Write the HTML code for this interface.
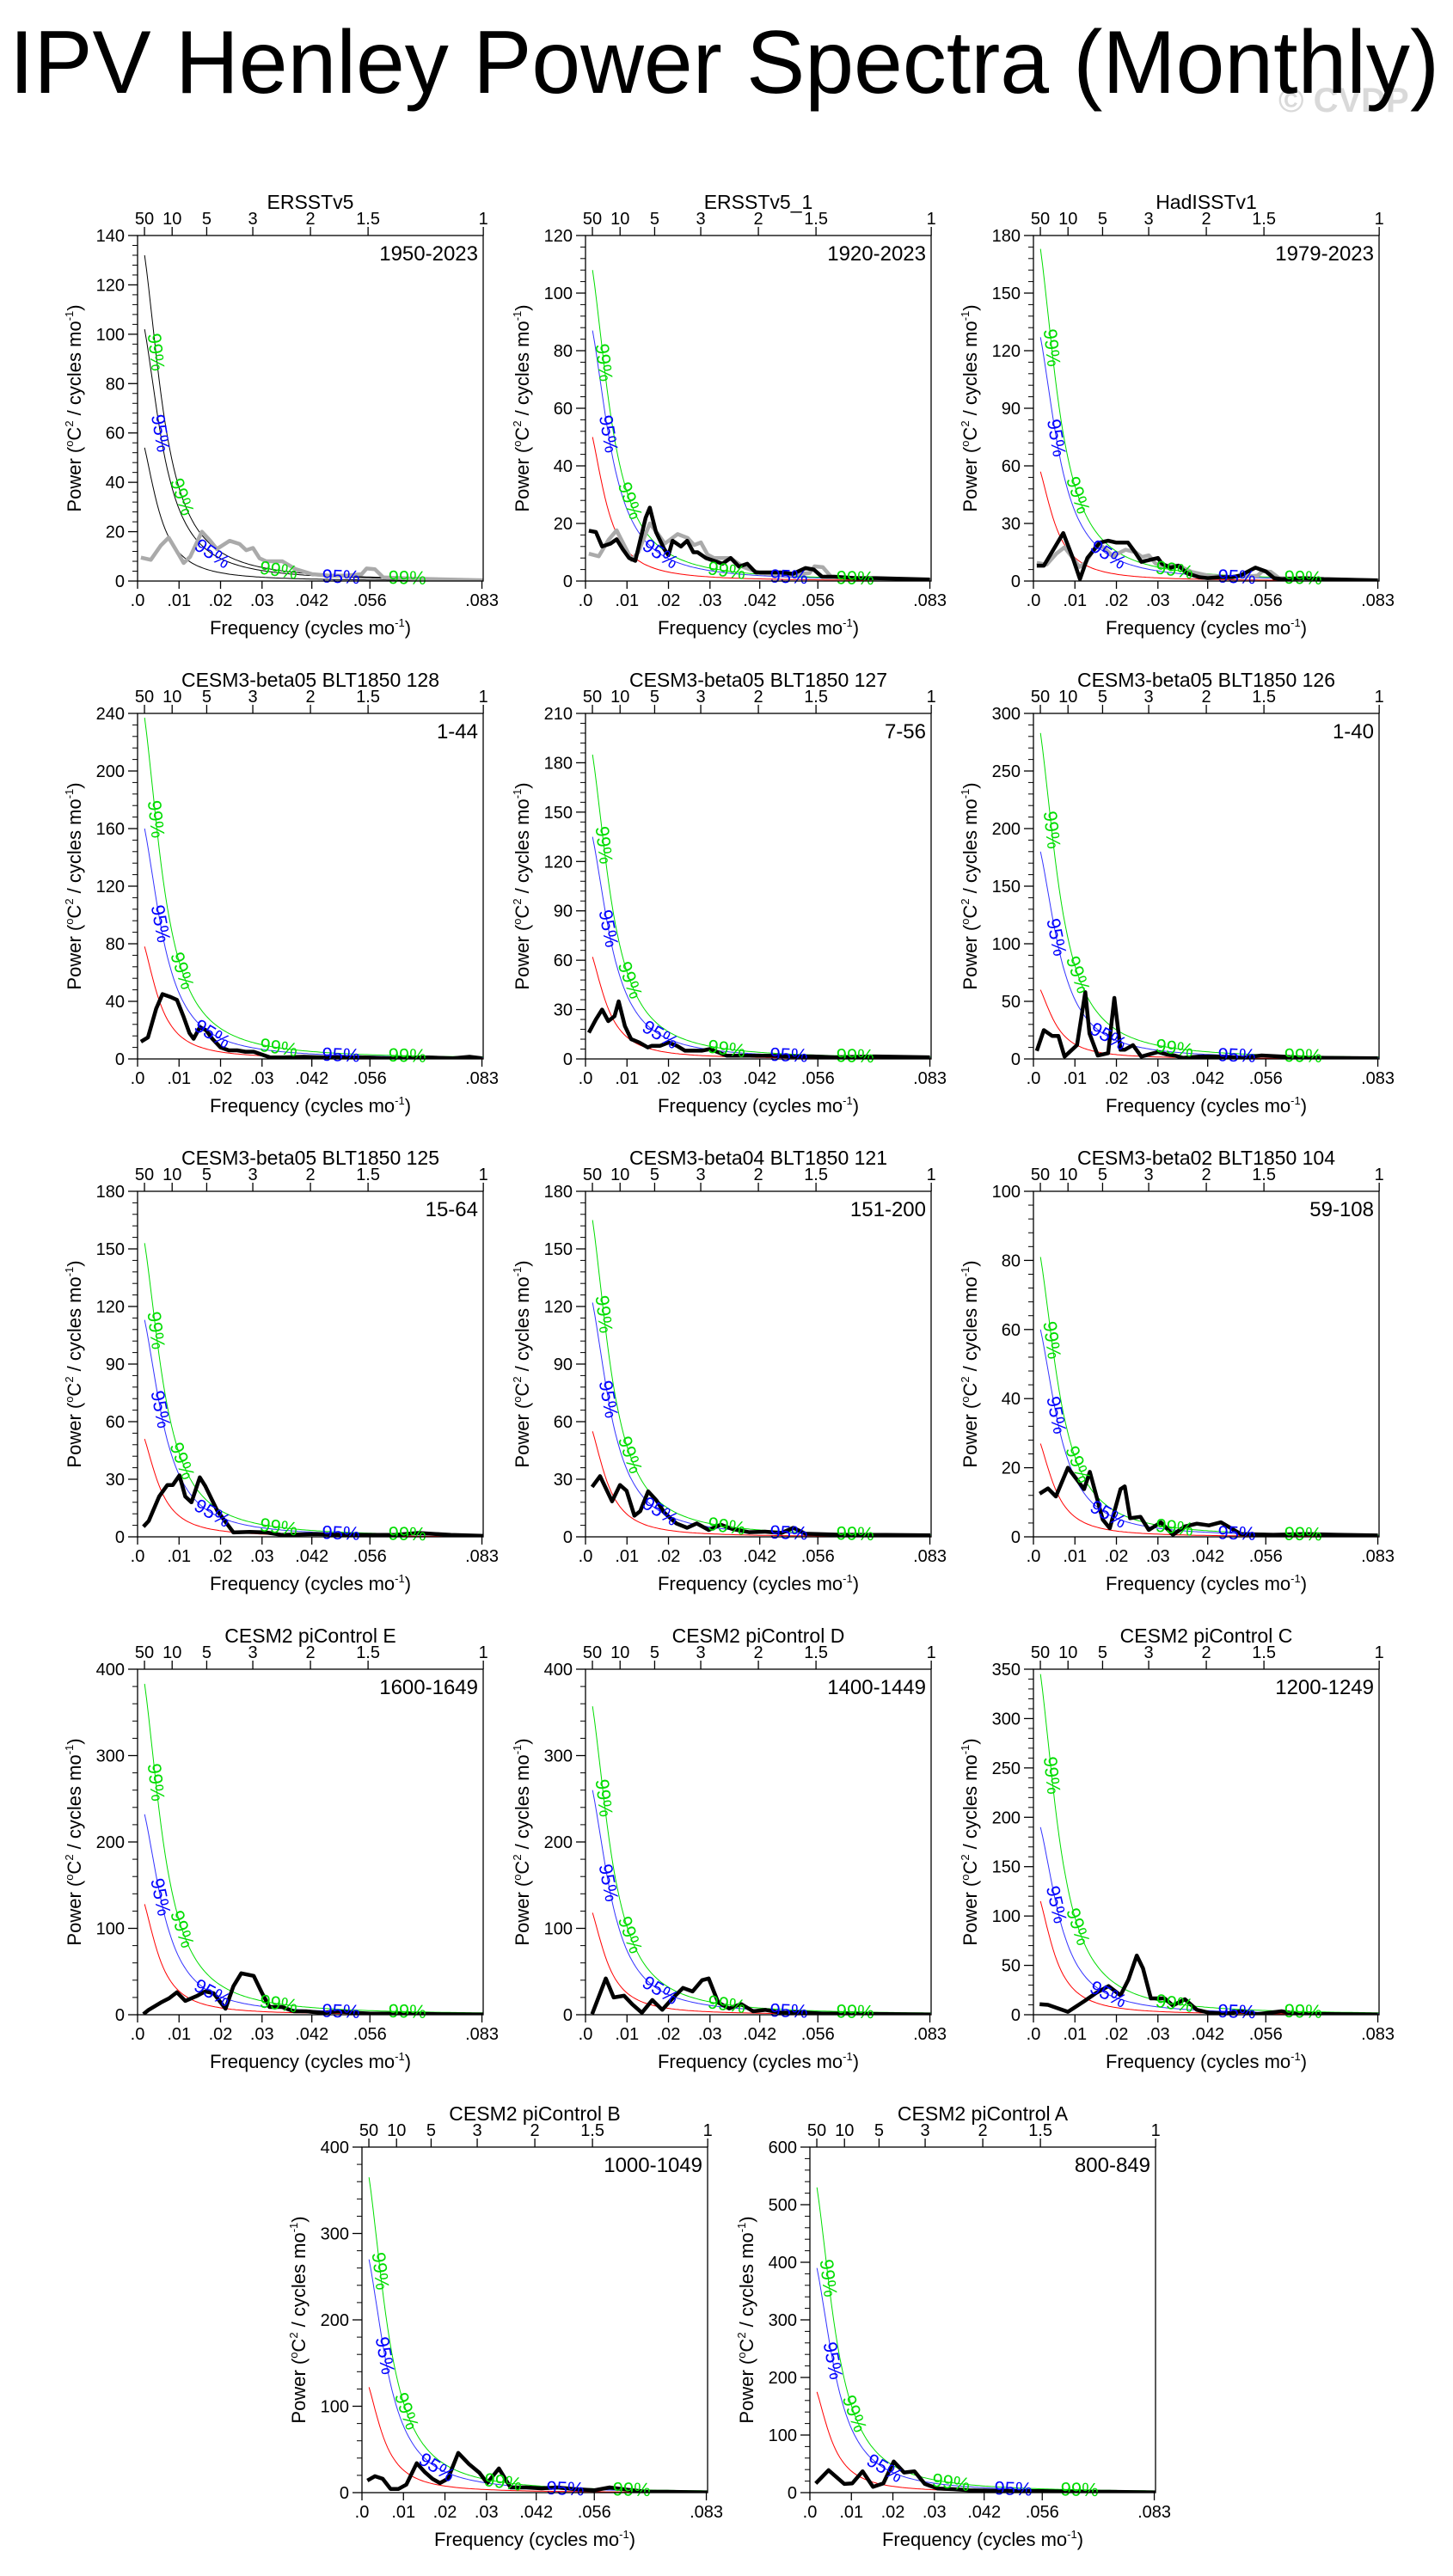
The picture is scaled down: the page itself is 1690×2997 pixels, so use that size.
<!DOCTYPE html>
<html><head><meta charset="utf-8"><title>IPV Henley Power Spectra (Monthly)</title>
<style>
html,body{margin:0;padding:0;background:#fff;}
svg{display:block;font-family:"Liberation Sans",sans-serif;}
</style></head>
<body>
<svg id="fig" xmlns="http://www.w3.org/2000/svg" width="1690" height="2997" viewBox="0 0 1690 2997">
<rect width="1690" height="2997" fill="#fff"/>
<text x="1487" y="130" font-size="40" font-weight="bold" fill="#d9d9d9">© CVDP</text>
<text x="11" y="108" font-size="104" textLength="1663" lengthAdjust="spacingAndGlyphs" fill="#000">IPV Henley Power Spectra (Monthly)</text>
<g id="panels"></g>
</svg>
<script>
// ---- chart data ----
const panelTitles = ["ERSSTv5","ERSSTv5_1","HadISSTv1","CESM3-beta05 BLT1850 128","CESM3-beta05 BLT1850 127","CESM3-beta05 BLT1850 126","CESM3-beta05 BLT1850 125","CESM3-beta04 BLT1850 121","CESM3-beta02 BLT1850 104","CESM2 piControl E","CESM2 piControl D","CESM2 piControl C","CESM2 piControl B","CESM2 piControl A"];
const periodLabels = ["1950-2023","1920-2023","1979-2023","1-44","7-56","1-40","15-64","151-200","59-108","1600-1649","1400-1449","1200-1249","1000-1049","800-849"];
const yMax = [140,120,180,240,210,300,180,180,100,400,400,350,400,600];
const yStep = [20,20,30,40,30,50,30,30,20,100,100,50,100,100];
const redNoiseStart = [54,50,57,78,62,60,51,55,27,128,118,115,122,175];
const sig95Start = [102,87,127,160,135,180,113,122,60,232,260,190,270,390];
const sig99Start = [132,108,173,237,185,283,153,165,81,383,357,345,365,530];
const redNoiseDecay = 0.03;
const sigDecay = 0.037;
const curveStartFreq = 0.0017;
const freqTicks = [0,0.01,0.02,0.03,0.042,0.056,0.083];
const freqTickLabels = [".0",".01",".02",".03",".042",".056",".083"];
const periodTicks = [50,10,5,3,2,1.5,1];
const periodTickLabels = ["50","10","5","3","2","1.5","1"];

// observed ERSSTv5 spectrum (gray)
const obsFreq = [.0008,.0032,.0056,.0075,.0099,.0111,.0127,.0155,.0175,.0191,.0222,.0246,.0262,.0278,.0294,.0310,.0349,.0381,.0421,.0461,.05,.054,.0552,.0572,.0592,.0659,.0833];
const obsPower = [9.5,8.6,14.4,17.6,10.8,7.3,9.9,20,16.3,13,16.3,15,12.5,13.4,9.2,8,8,4.8,2.8,2.2,2.2,2.8,5.1,4.8,1.5,1,0.3];

const specFreq = [
 null,
 [.0008,.0025,.004,.006,.0075,.009,.0105,.012,.0145,.0155,.017,.019,.02,.021,.023,.0245,.026,.027,.029,.031,.033,.035,.037,.039,.041,.044,.047,.05,.053,.055,.057,.06,.065,.07,.083],
 [.0008,.0025,.0072,.0095,.0112,.013,.016,.018,.02,.0228,.0245,.026,.028,.03,.031,.033,.035,.037,.04,.042,.045,.048,.05,.0535,.056,.058,.06,.065,.07,.083],
 [.0008,.0025,.0045,.006,.008,.0095,.011,.0125,.0135,.015,.0165,.018,.02,.022,.024,.026,.028,.03,.032,.035,.04,.045,.05,.055,.06,.07,.076,.08,.083],
 [.0008,.0025,.004,.0055,.007,.008,.0095,.011,.013,.015,.016,.018,.02,.022,.024,.026,.028,.03,.032,.034,.04,.045,.05,.055,.06,.07,.083],
 [.0008,.0025,.0045,.006,.0075,.0105,.0125,.0135,.0155,.018,.0195,.021,.022,.024,.026,.028,.03,.032,.034,.036,.04,.045,.05,.055,.06,.065,.07,.083],
 [.0014,.0027,.0052,.0072,.0085,.0101,.0115,.013,.015,.0163,.0192,.0231,.027,.031,.0348,.0425,.052,.062,.0677,.0755,.0833],
 [.0016,.0035,.0064,.0083,.0099,.0118,.0132,.0151,.0171,.019,.0219,.0245,.0268,.0297,.0326,.0355,.0394,.0433,.0472,.0501,.053,.0608,.0724,.0831],
 [.0015,.0035,.0054,.0083,.0122,.0136,.0167,.0184,.021,.022,.0233,.0258,.0278,.0307,.0336,.0365,.0394,.0423,.0452,.05,.0578,.0656,.0734,.083],
 [.0014,.0027,.0056,.0076,.0095,.0115,.0144,.0163,.0183,.0212,.0231,.025,.028,.03,.0318,.0348,.0377,.0406,.0445,.0483,.0522,.0561,.0639,.0717,.0833],
 [.0016,.0049,.0068,.0093,.0113,.0136,.0161,.0185,.021,.0235,.0258,.0281,.0297,.032,.0346,.0375,.0404,.0433,.0472,.0511,.0569,.0647,.0724,.0831],
 [.0015,.0035,.0083,.0122,.0151,.0181,.021,.0229,.0249,.0264,.0283,.0316,.0336,.0365,.0394,.0423,.0462,.05,.0539,.0598,.0637,.0714,.083],
 [.0013,.0031,.005,.0069,.0088,.0107,.0132,.0151,.017,.0188,.0207,.0232,.0258,.0283,.0302,.033,.0358,.0396,.0433,.0471,.0509,.0559,.0597,.0635,.0685,.0735,.0833],
 [.0014,.0045,.0083,.0102,.0127,.0152,.0177,.0202,.0227,.0252,.0277,.0308,.0346,.0384,.0434,.0497,.056,.0635,.0723,.0833]
];
const specPower = [
 null,
 [17.5,17,12,13,14.5,11,8,7,22,25.5,17,11,9,14,12,14,10,10,8,7,6,8,5,6,3,3,3,2.5,4.5,4,1.5,1.5,1,1,0.5],
 [8,8,25,12,1,12,20,21,20,20,15,10,11,12,9,7,8,4,2,1.5,2,2,3,7,5,1.5,1,1.5,1,0.3],
 [12,15,35,45,43,41,30,18,14,22,20,14,8,6,6,5,5,3,1,1,1.5,1,1,1,0.5,1,0.5,1.5,0.5],
 [16,24,30,23,26,35,20,12,10,7,8,8,10,8,5,5,5,6,4,2,2,2,1.5,1.5,1,1.5,1],
 [7,25,20,20,2,12,58,22,3,5,53,8,8,12,2,4,6,4,3,1,2,2,1,3,2,1,1,0.5],
 [5.3,8.3,21,27,27,32,21,18,31,26.5,13.6,2.3,2.6,2.3,1,1.5,1,1,2,1,0.5],
 [26,31.6,18.5,27,24,11,13.4,23.7,19,12.6,7,4.7,7,3.6,6.3,4,2.4,2.7,2,4.7,1.6,1.1,1,0.8],
 [12.5,14,11.7,20,13.8,18.8,5,2.5,13.8,14.6,5.4,5.8,2,4.2,0.6,3,3.8,3.3,4.2,0.8,0.6,0.8,0.6,0.4],
 [0.7,5.7,14,19,26,16,22,27,25,7,33,48,45,25,9,9,4,4,2.3,4,2.3,1.3,1.3,0.7,0.3],
 [0.7,42,20,22,12,2.3,17,5.7,19,31,27,40,42,14,7.3,12.3,4,5.7,2.3,3,1.3,1.3,0.7,0.3],
 [10.7,10,3,13.6,22,29,19.7,35.6,60,47,16.5,16.5,9.3,15.7,5,2,1.2,3.5,0.5,3.5,0.6,0.6,0.3],
 [14,19,16,4.3,4.3,9.3,34,24,16,11,16,46,33,23,11,28,6,6,5,6,4.3,2.7,6,3.7,1,1,0.3],
 [16,39,15,16,37,10,16,54,35,37,15,7,6,4,3.5,2.5,2.5,1.5,1.5,0.5]
];
const labelFreqs = [0.0044,0.0055,0.0107,0.018,0.034,0.049,0.065];
const labelKinds = ["99","95","99","95","99","95","99"];

// ---- layout (not data) ----
const colX = [160,681,1202];
const rowY = [274,830,1386,1942,2498];
const W = 402, H = 402, FMAX = 0.0833;
const NS = "http://www.w3.org/2000/svg";
const root = document.getElementById('panels');

function mk(tag, attrs, parent){
  const e = document.createElementNS(NS, tag);
  for (const k in attrs) e.setAttribute(k, attrs[k]);
  (parent||root).appendChild(e);
  return e;
}
function shape(f, a){
  const r = 1 - a;
  const s = x => 1/(1 + r*r - 2*r*Math.cos(2*Math.PI*x));
  return s(f)/s(curveStartFreq);
}

for (let p = 0; p < panelTitles.length; p++){
  let L, T;
  if (p < 12){ L = colX[p%3]; T = rowY[Math.floor(p/3)]; }
  else { L = p===12 ? 421 : 942; T = rowY[4]; }
  const B = T + H, R = L + W;
  const xs = f => L + f/FMAX*W;
  const ys = v => B - v/yMax[p]*H;

  const g = mk('g', {});
  
  

  const cid = 'clip' + p;
  const cp = mk('clipPath', {id: cid}, g);
  mk('rect', {x: L, y: T, width: W, height: H}, cp);

  const tt = mk('text', {x: L+W/2, y: T-31, 'font-size': 23, 'text-anchor':'middle'}, g);
  tt.textContent = panelTitles[p];
  
  

  const pl = mk('text', {x: R-6, y: T+29, 'font-size': 24, 'text-anchor':'end'}, g);
  pl.textContent = periodLabels[p];
  
  

  const nMaj = Math.round(yMax[p]/yStep[p]);
  const sub = 5;
  for (let i = 0; i <= nMaj; i++){
    const v = i*yStep[p];
    const y = ys(v);
    const tk = mk('line', {x1: L-11, x2: L, y1: y, y2: y, stroke:'#000', 'stroke-width':1.3}, g);
    
    
    const lb = mk('text', {x: L-15, y: y+7, 'font-size': 20, 'text-anchor':'end'}, g);
    lb.textContent = String(v);
    
    
    if (i < nMaj){
      for (let j = 1; j < sub; j++){
        const yy = ys(v + j*yStep[p]/sub);
        const mt = mk('line', {x1: L-6, x2: L, y1: yy, y2: yy, stroke:'#000', 'stroke-width':1}, g);
        
        
      }
    }
  }
  for (let i = 0; i < freqTicks.length; i++){
    const x = xs(freqTicks[i]);
    const tk = mk('line', {x1: x, x2: x, y1: B, y2: B+9, stroke:'#000', 'stroke-width':1.3}, g);
    
    
    const lb = mk('text', {x: x, y: B+29, 'font-size': 20, 'text-anchor':'middle'}, g);
    lb.textContent = freqTickLabels[i];
    
    
  }
  for (let i = 0; i < periodTicks.length; i++){
    const x = xs(1/(12*periodTicks[i]));
    const tk = mk('line', {x1: x, x2: x, y1: T, y2: T-10, stroke:'#000', 'stroke-width':1.3}, g);
    
    
    const lb = mk('text', {x: x, y: T-13, 'font-size': 20, 'text-anchor':'middle'}, g);
    lb.textContent = periodTickLabels[i];
    
    
  }
  const xt = mk('text', {x: L+W/2, y: B+62, 'font-size': 22, 'text-anchor':'middle'}, g);
  xt.innerHTML = 'Frequency (cycles mo<tspan dy="-9" font-size="13">-1</tspan><tspan dy="9">)</tspan>';
  
  
  const yt = mk('text', {x: 0, y: 0, 'font-size': 22, 'text-anchor':'middle', transform: `translate(${L-66},${T+H/2}) rotate(-90)`}, g);
  yt.innerHTML = 'Power (<tspan dy="-9" font-size="13">o</tspan><tspan dy="9">C</tspan><tspan dy="-9" font-size="13">2</tspan><tspan dy="9"> / cycles mo</tspan><tspan dy="-9" font-size="13">-1</tspan><tspan dy="9">)</tspan>';
  
  

  const pg = mk('g', {'clip-path': `url(#${cid})`}, g);

  const curveCols = p===0 ? ['#000','#000','#000'] : ['#ff0000','#3333ff','#00dd00'];
  const starts = [redNoiseStart[p], sig95Start[p], sig99Start[p]];
  const decays = [redNoiseDecay, sigDecay, sigDecay];
  const names = ['red-noise-curve','confidence-95-curve','confidence-99-curve'];
  for (let c = 0; c < 3; c++){
    let d = '';
    for (let f = curveStartFreq; f <= FMAX + 1e-9; f += 0.0005){
      d += (d ? 'L' : 'M') + xs(f).toFixed(1) + ',' + ys(starts[c]*shape(f, decays[c])).toFixed(1);
    }
    const pth = mk('path', {d: d, fill:'none', stroke: curveCols[c], 'stroke-width': 1}, pg);
    
    
  }
  for (let i = 0; i < labelFreqs.length; i++){
    const f = labelFreqs[i];
    const base = labelKinds[i]==='99' ? sig99Start[p] : sig95Start[p];
    const x1 = xs(f-0.0006), y1 = ys(base*shape(f-0.0006, sigDecay));
    const x2 = xs(f+0.0006), y2 = ys(base*shape(f+0.0006, sigDecay));
    const ang = Math.atan2(y2-y1, x2-x1)*180/Math.PI;
    const x = xs(f), y = ys(base*shape(f, sigDecay));
    const lb = mk('text', {x: 0, y: 7, 'font-size': 22, 'text-anchor':'middle', fill: labelKinds[i]==='99' ? '#00dd00' : '#0000ff', transform: `translate(${x.toFixed(1)},${y.toFixed(1)}) rotate(${ang.toFixed(1)})`}, g);
    lb.textContent = labelKinds[i] + '%';
    
    
  }
  if (p < 3){
    const pts = obsFreq.map((f,i) => xs(f).toFixed(1) + ',' + ys(obsPower[i]).toFixed(1)).join(' ');
    const gl = mk('polyline', {points: pts, fill:'none', stroke:'#aaaaaa', 'stroke-width': 4.5, 'stroke-linejoin':'round'}, pg);
    
    
  }
  if (specFreq[p]){
    const pts = specFreq[p].map((f,i) => xs(f).toFixed(1) + ',' + ys(specPower[p][i]).toFixed(1)).join(' ');
    const bl = mk('polyline', {points: pts, fill:'none', stroke:'#000', 'stroke-width': 4.5, 'stroke-linejoin':'round'}, pg);
    
    
  }
  const fr = mk('rect', {x: L, y: T, width: W, height: H, fill:'none', stroke:'#000', 'stroke-width':1.3}, g);
  
  
}
</script>
</body></html>
